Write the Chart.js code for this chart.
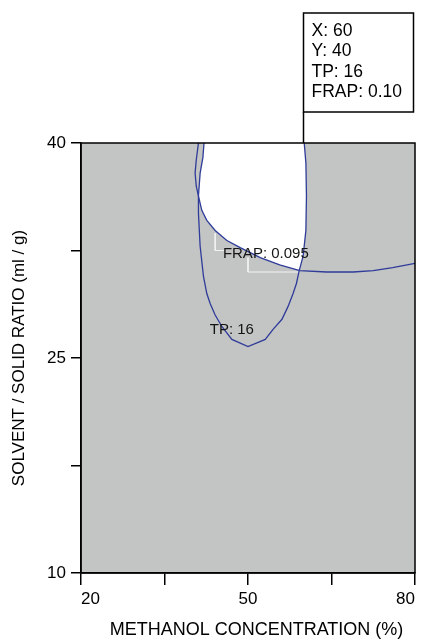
<!DOCTYPE html>
<html><head><meta charset="utf-8">
<script src="https://cdn.jsdelivr.net/npm/chart.js@4.4.1/dist/chart.umd.min.js"></script>
<style>html,body{margin:0;padding:0;background:#fff}canvas{display:block}</style>
</head><body>
<canvas id="c" width="422" height="639"></canvas>
<script>
// ---- data ----
const xTicks = [20, 35, 50, 65, 80];
const xTickLabels = ['20', '', '50', '', '80'];
const yTicks = [10, 17.5, 25, 32.5, 40];
const yTickLabels = ['10', '', '25', '', '40'];

// TP = 16 contour (methanol %, solvent/solid ratio)
const tpX = [42.1, 41.9, 41.4, 41.1, 41.1, 41.4, 42.0, 42.6, 43.2, 44.1, 45.3, 47.1, 50.0, 53.1, 54.5, 56.1, 57.2, 58.1, 58.7, 59.2, 59.9, 60.4, 60.5, 60.4, 60.1];
const tpY = [40.0, 39.0, 37.9, 36.3, 35.1, 32.8, 30.7, 29.5, 28.8, 28.0, 27.2, 26.3, 25.8, 26.3, 27.0, 27.7, 28.6, 29.5, 30.2, 31.1, 32.1, 33.9, 36.3, 38.6, 40.0];

// FRAP = 0.095 contour
const frapX = [41.1, 40.7, 40.5, 40.7, 41.1, 41.7, 42.6, 44.1, 46.2, 48.6, 52.2, 55.7, 59.3, 64.1, 68.9, 72.5, 76.0, 80.0];
const frapY = [40.0, 38.8, 37.9, 37.0, 36.3, 35.3, 34.6, 33.9, 33.2, 32.7, 32.0, 31.5, 31.1, 31.0, 31.0, 31.1, 31.3, 31.6];

const tpLevel = 16;
const frapLevel = '0.095';

// probed optimum point
const probeX = 60;
const probeY = 40;
const probeTP = 16;
const probeFRAP = '0.10';

// faint label leader lines (white) next to FRAP label
const leader1X = [44.1, 44.1, 45.9];
const leader1Y = [33.7, 32.5, 32.5];
const leader2X = [50.0, 50.0, 59.3];
const leader2Y = [32.0, 31.0, 31.0];

// ---- styling ----
const FONT = "'Liberation Sans', Arial, Helvetica, sans-serif";
const LINE_BLUE = '#2e3b99';
const GRAY = '#c3c4c4';

const toPts = (xs, ys) => xs.map((v, i) => ({x: v, y: ys[i]}));

const overlayPlugin = {
  id: 'overlay',
  beforeDraw(chart) {
    const {ctx, chartArea: a, scales: {x, y}} = chart;
    const w = a.right - a.left, h = a.bottom - a.top;
    ctx.save();
    ctx.fillStyle = GRAY;
    ctx.fillRect(a.left, a.top, w, h);
    ctx.beginPath(); ctx.rect(a.left, a.top, w, h); ctx.clip();
    // inside TP contour
    ctx.beginPath();
    tpX.forEach((v, i) => {
      const px = x.getPixelForValue(v), py = y.getPixelForValue(tpY[i]);
      i ? ctx.lineTo(px, py) : ctx.moveTo(px, py);
    });
    ctx.closePath(); ctx.clip();
    // above FRAP contour
    ctx.beginPath();
    frapX.forEach((v, i) => {
      const px = x.getPixelForValue(v), py = y.getPixelForValue(frapY[i]);
      i ? ctx.lineTo(px, py) : ctx.moveTo(px, py);
    });
    ctx.lineTo(x.getPixelForValue(x.max), y.getPixelForValue(y.max));
    ctx.closePath(); ctx.clip();
    ctx.fillStyle = '#ffffff';
    ctx.fillRect(a.left, a.top, w, h);
    ctx.restore();
  },
  afterDraw(chart) {
    const {ctx, chartArea: a, scales: {x, y}} = chart;
    ctx.save();
    // frame
    ctx.strokeStyle = '#000';
    ctx.lineWidth = 1.5;
    ctx.strokeRect(a.left, a.top, a.right - a.left, a.bottom - a.top);

    // contour labels
    ctx.fillStyle = '#141414';
    ctx.font = '15px ' + FONT;
    ctx.textAlign = 'center';
    ctx.textBaseline = 'middle';
    ctx.fillText('TP: ' + tpLevel, x.getPixelForValue(47.1), y.getPixelForValue(26.95));
    ctx.fillText('FRAP: ' + frapLevel, x.getPixelForValue(53.2), y.getPixelForValue(32.25));

    // probe box
    const px = Math.round(x.getPixelForValue(probeX)) - 0.5;
    const py = y.getPixelForValue(probeY);
    const bw = 110, bBottom = py - 31, bTop = py - 130;
    ctx.lineWidth = 1.5;
    ctx.strokeStyle = '#000';
    ctx.fillStyle = '#fff';
    ctx.fillRect(px, bTop, bw, bBottom - bTop);
    ctx.strokeRect(px, bTop, bw, bBottom - bTop);
    ctx.beginPath(); ctx.moveTo(px, bBottom); ctx.lineTo(px, py); ctx.stroke();
    ctx.fillStyle = '#000';
    ctx.font = '17.5px ' + FONT;
    ctx.textAlign = 'left';
    const lines = ['X: ' + probeX, 'Y: ' + probeY, 'TP: ' + probeTP, 'FRAP: ' + probeFRAP];
    lines.forEach((t, i) => ctx.fillText(t, px + 8, bTop + 18 + i * 20.5));

    // x-axis title
    ctx.font = '18px ' + FONT;
    ctx.textAlign = 'center';
    ctx.textBaseline = 'alphabetic';
    ctx.fillText('METHANOL CONCENTRATION (%)', (a.left + a.right) / 2 + 8.5, 635);
    ctx.restore();
  }
};

new Chart(document.getElementById('c'), {
  type: 'scatter',
  data: {
    datasets: [
      {label: 'TP 16', data: toPts(tpX, tpY), showLine: true, borderColor: LINE_BLUE, borderWidth: 1.3, pointRadius: 0, tension: 0, fill: false},
      {label: 'FRAP 0.095', data: toPts(frapX, frapY), showLine: true, borderColor: LINE_BLUE, borderWidth: 1.3, pointRadius: 0, tension: 0, fill: false},
      {label: 'leader1', data: toPts(leader1X, leader1Y), showLine: true, borderColor: '#f2f2f2', borderWidth: 1, pointRadius: 0, tension: 0},
      {label: 'leader2', data: toPts(leader2X, leader2Y), showLine: true, borderColor: '#f2f2f2', borderWidth: 1, pointRadius: 0, tension: 0}
    ]
  },
  options: {
    responsive: false,
    animation: false,
    devicePixelRatio: 1,
    layout: {padding: {top: 143, right: 7, left: 0, bottom: 0}},
    plugins: {legend: {display: false}, tooltip: {enabled: false}},
    scales: {
      x: {
        type: 'linear', min: 20, max: 80,
        afterBuildTicks: s => { s.ticks = xTicks.map(v => ({value: v})); },
        afterFit: s => { s.height = 66; },
        ticks: {
          callback: (v, i) => xTickLabels[i],
          autoSkip: false, maxRotation: 0, align: 'inner', padding: 4,
          color: '#000', font: {family: FONT, size: 17}
        },
        grid: {drawOnChartArea: false, drawTicks: true, tickLength: 12, color: '#000', lineWidth: 1.5},
        border: {display: true, color: '#000', width: 1.5},
        title: {display: false}
      },
      y: {
        type: 'linear', min: 10, max: 40,
        afterBuildTicks: s => { s.ticks = yTicks.map(v => ({value: v})); },
        afterFit: s => { s.width = 81; },
        ticks: {
          callback: (v, i) => yTickLabels[i],
          autoSkip: false, padding: 5,
          color: '#000', font: {family: FONT, size: 17}
        },
        grid: {drawOnChartArea: false, drawTicks: true, tickLength: 10, color: '#000', lineWidth: 1.5},
        border: {display: true, color: '#000', width: 1.5},
        title: {display: true, text: 'SOLVENT / SOLID RATIO (ml / g)', color: '#000',
                font: {family: FONT, size: 17}, padding: {top: 9.5, bottom: 0}}
      }
    }
  },
  plugins: [overlayPlugin]
});
</script>
</body></html>
